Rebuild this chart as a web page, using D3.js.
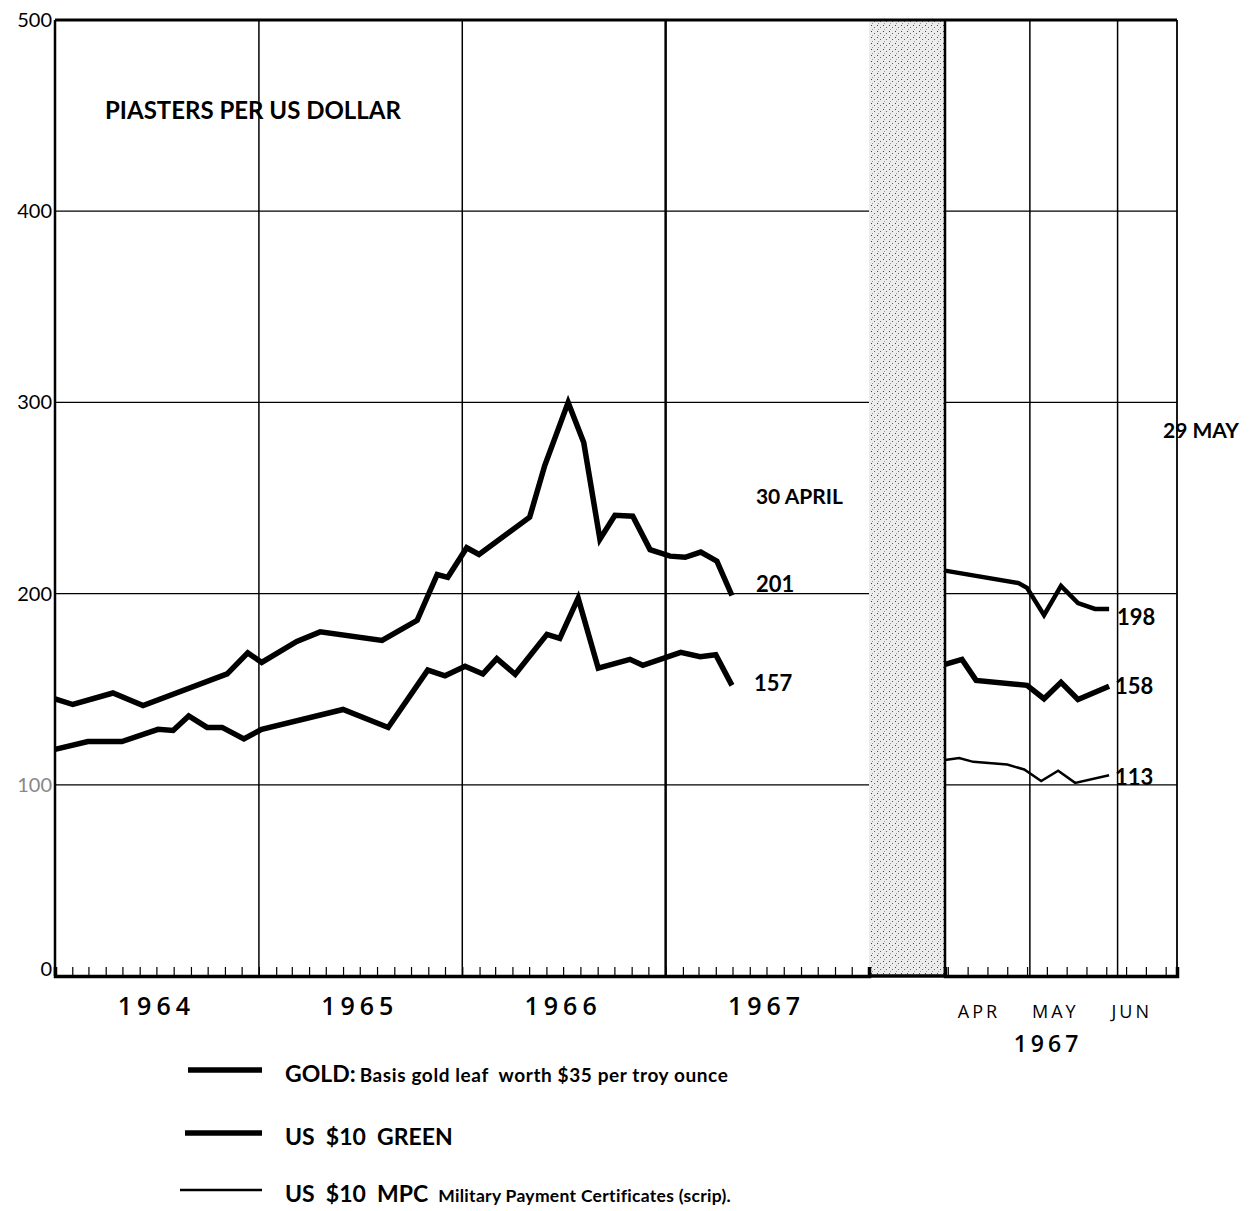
<!DOCTYPE html>
<html>
<head>
<meta charset="utf-8">
<script src="https://cdn.jsdelivr.net/npm/d3@7"></script>
<style>
  body { margin: 0; background: #fff; }
  text { font-family: Lato, "Open Sans", sans-serif; fill: #000; }
</style>
</head>
<body>
<div id="chart"></div>
<script>
// Left panel, 1964 - 30 April 1967
const goldLeftDates = ["1964-01-01","1964-02-02","1964-04-14","1964-06-07","1964-11-05","1964-12-12","1965-01-06","1965-03-10","1965-04-21","1965-08-10","1965-10-12","1965-11-17","1965-12-06","1966-01-09","1966-01-31","1966-05-02","1966-05-29","1966-07-10","1966-08-07","1966-09-05","1966-10-02","1966-11-03","1966-12-04","1967-01-09","1967-02-05","1967-03-05","1967-04-03","1967-04-30"];
const goldLeftValues = [145,142,148,141.5,158,169,164,175,180,175.5,186,210,208.5,224,220.5,240,267,300,279,228.5,241,240.5,223,219.6,219,221.7,217,199];

const greenLeftDates = ["1964-01-01","1964-02-29","1964-04-30","1964-07-04","1964-07-31","1964-08-28","1964-09-30","1964-10-27","1964-12-05","1965-01-06","1965-06-01","1965-08-21","1965-10-31","1965-12-01","1966-01-06","1966-02-07","1966-03-04","1966-04-06","1966-06-02","1966-06-25","1966-07-28","1966-09-02","1966-10-29","1966-11-21","1967-01-28","1967-03-04","1967-04-01","1967-04-30"];
const greenLeftValues = [118.5,122.6,122.6,129,128.4,136,130,130,124,129,139.4,130,160,157,162,158,166,157.8,178.7,176.6,197.6,161,165.6,162.5,169.3,167,168,152];

// Right panel, April - June 1967
const goldRightDates = ["1967-04-01","1967-04-27","1967-04-30","1967-05-06","1967-05-12","1967-05-18","1967-05-24","1967-05-29"];
const goldRightValues = [212,205.5,203,188.7,204,195,192,192];

const greenRightDates = ["1967-04-01","1967-04-07","1967-04-12","1967-04-30","1967-05-06","1967-05-12","1967-05-18","1967-05-29"];
const greenRightValues = [163,165.6,154.6,152,145,153.6,144.6,151.5];

const mpcRightDates = ["1967-04-01","1967-04-06","1967-04-11","1967-04-23","1967-04-29","1967-05-05","1967-05-11","1967-05-17","1967-05-29"];
const mpcRightValues = [113,114,112,110.6,108,102,107.4,101,105];

const yTicks = [0,100,200,300,400,500];
const yearLabels = ["1964","1965","1966","1967"];
const monthLabels = ["APR","MAY","JUN"];
const monthLabelDates = ["1967-04-13","1967-05-10","1967-06-06"];
const leftEndLabels = ["30 APRIL","201","157"];
const rightEndLabels = ["29 MAY","198","158","113"];

const parse = d3.timeParse("%Y-%m-%d");

const W = 1250, H = 1211;
const svg = d3.select("#chart").append("svg")
  .attr("width", W).attr("height", H);

// stipple pattern for the break between panels
const defs = svg.append("defs");
const pat = defs.append("pattern").attr("id", "stip")
  .attr("width", 6).attr("height", 6).attr("patternUnits", "userSpaceOnUse");
pat.append("rect").attr("width", 6).attr("height", 6).attr("fill", "#ececec");
pat.append("rect").attr("x", 1).attr("y", 1).attr("width", 1).attr("height", 1).attr("fill", "#444");
pat.append("rect").attr("x", 4).attr("y", 3).attr("width", 1).attr("height", 1).attr("fill", "#666");
pat.append("rect").attr("x", 2).attr("y", 5).attr("width", 1).attr("height", 1).attr("fill", "#999");

const plotTop = 20, plotBottom = 976;
const y = d3.scaleLinear().domain([0, 500]).range([plotBottom, plotTop]);

const xL = d3.scaleTime()
  .domain([parse("1964-01-01"), parse("1968-01-01")])
  .range([55, 869]);
const xR = d3.scaleTime()
  .domain([parse("1967-04-01"), parse("1967-06-22")])
  .range([945, 1177]);

// break area
svg.append("rect")
  .attr("x", xL.range()[1]).attr("y", plotTop)
  .attr("width", xR.range()[0] - xL.range()[1]).attr("height", plotBottom - plotTop)
  .attr("fill", "url(#stip)");

// horizontal grid lines
[xL, xR].forEach(sc => {
  svg.append("g").selectAll("line")
    .data(yTicks.filter(d => d > 0 && d < 500))
    .join("line")
    .attr("x1", sc.range()[0]).attr("x2", sc.range()[1])
    .attr("y1", d => y(d)).attr("y2", d => y(d))
    .attr("stroke", "#000").attr("stroke-width", 1.3);
});

// vertical grid: year boundaries, month boundaries
const yearBounds = d3.timeYear.range(parse("1965-01-01"), parse("1968-01-01"));
svg.append("g").selectAll("line")
  .data(yearBounds)
  .join("line")
  .attr("x1", d => xL(d)).attr("x2", d => xL(d))
  .attr("y1", plotTop).attr("y2", plotBottom)
  .attr("stroke", "#000")
  .attr("stroke-width", (d, i) => i === yearBounds.length - 1 ? 2.5 : 1.5);

const monthBounds = [parse("1967-05-01"), parse("1967-06-01")];
svg.append("g").selectAll("line")
  .data(monthBounds)
  .join("line")
  .attr("x1", d => xR(d)).attr("x2", d => xR(d))
  .attr("y1", plotTop).attr("y2", plotBottom)
  .attr("stroke", "#000").attr("stroke-width", 1.5);

// panel frames
svg.append("line")
  .attr("x1", xL.range()[0]).attr("x2", xL.range()[0])
  .attr("y1", plotTop).attr("y2", plotBottom)
  .attr("stroke", "#000").attr("stroke-width", 2.5);
svg.append("line")
  .attr("x1", xR.range()[0]).attr("x2", xR.range()[0])
  .attr("y1", plotTop).attr("y2", plotBottom)
  .attr("stroke", "#000").attr("stroke-width", 2.5);
svg.append("line")
  .attr("x1", xR.range()[1]).attr("x2", xR.range()[1])
  .attr("y1", plotTop).attr("y2", plotBottom)
  .attr("stroke", "#000").attr("stroke-width", 1.8);
svg.append("line")
  .attr("x1", xL.range()[0]).attr("x2", xR.range()[1])
  .attr("y1", plotTop).attr("y2", plotTop)
  .attr("stroke", "#000").attr("stroke-width", 3);

// bottom axes with month / week ticks
const axL = d3.axisBottom(xL).ticks(d3.timeMonth.every(1)).tickSize(-9).tickFormat("");
const gL = svg.append("g").attr("transform", `translate(0,${plotBottom})`).call(axL);
const axR = d3.axisBottom(xR).ticks(d3.timeWeek.every(1)).tickSize(-9).tickFormat("");
const gR = svg.append("g").attr("transform", `translate(0,${plotBottom})`).call(axR);
[gL, gR].forEach(g => {
  g.select(".domain").attr("stroke", "#000").attr("stroke-width", 3.5);
  g.selectAll(".tick line").attr("stroke", "#000").attr("stroke-width", 1.2);
});
svg.append("line")
  .attr("x1", xL.range()[1]).attr("x2", xR.range()[0])
  .attr("y1", plotBottom).attr("y2", plotBottom)
  .attr("stroke", "#000").attr("stroke-width", 3.5);

// y axis labels
svg.append("g").selectAll("text")
  .data(yTicks)
  .join("text")
  .attr("x", 52).attr("y", d => y(d) + (d === 0 ? 0 : 7))
  .attr("text-anchor", "end")
  .attr("font-size", 20)
  .style("fill", d => d === 100 ? "#888" : "#000")
  .text(d => d);

// series lines
const line = (sc) => d3.line().x(d => sc(d[0])).y(d => y(d[1])).curve(d3.curveLinear);
const series = [
  { dates: goldLeftDates, values: goldLeftValues, sc: xL, w: 5.5 },
  { dates: greenLeftDates, values: greenLeftValues, sc: xL, w: 5.5 },
  { dates: goldRightDates, values: goldRightValues, sc: xR, w: 4.5 },
  { dates: greenRightDates, values: greenRightValues, sc: xR, w: 5.5 },
  { dates: mpcRightDates, values: mpcRightValues, sc: xR, w: 2.5 }
];
series.forEach(s => {
  svg.append("path")
    .datum(s.dates.map((d, i) => [parse(d), s.values[i]]))
    .attr("d", line(s.sc))
    .attr("fill", "none")
    .attr("stroke", "#000")
    .attr("stroke-width", s.w)
    .attr("stroke-linejoin", "miter");
});

// unit label
svg.append("text")
  .attr("x", 105).attr("y", 119)
  .attr("font-size", 24).attr("font-weight", 700)
  .text("PIASTERS PER US DOLLAR");

// end labels, left panel
const lastL = parse(goldLeftDates[goldLeftDates.length - 1]);
svg.append("text").attr("x", xL(lastL) + 24).attr("y", 504)
  .attr("font-size", 21).attr("font-weight", 700).text(leftEndLabels[0]);
svg.append("text").attr("x", xL(lastL) + 24).attr("y", 592)
  .attr("font-size", 22).attr("font-weight", 700).text(leftEndLabels[1]);
svg.append("text").attr("x", xL(lastL) + 22).attr("y", 691)
  .attr("font-size", 22).attr("font-weight", 700).text(leftEndLabels[2]);

// end labels, right panel
const lastR = parse(goldRightDates[goldRightDates.length - 1]);
svg.append("text").attr("x", 1163).attr("y", 438)
  .attr("font-size", 21).attr("font-weight", 700).text(rightEndLabels[0]);
svg.append("text").attr("x", xR(lastR) + 8).attr("y", 625)
  .attr("font-size", 22).attr("font-weight", 700).text(rightEndLabels[1]);
svg.append("text").attr("x", xR(lastR) + 6).attr("y", 694)
  .attr("font-size", 22).attr("font-weight", 700).text(rightEndLabels[2]);
svg.append("text").attr("x", xR(lastR) + 6).attr("y", 785)
  .attr("font-size", 22).attr("font-weight", 700).text(rightEndLabels[3]);

// year labels
svg.append("g").selectAll("text")
  .data(yearLabels)
  .join("text")
  .attr("x", d => xL(parse(d + "-07-01")))
  .attr("y", 1015)
  .attr("text-anchor", "middle")
  .attr("font-size", 25)
  .attr("font-weight", 600)
  .attr("letter-spacing", 5)
  .style("font-family", "'Open Sans', sans-serif")
  .text(d => d);

// month labels
svg.append("g").selectAll("text")
  .data(monthLabels)
  .join("text")
  .attr("x", (d, i) => xR(parse(monthLabelDates[i])))
  .attr("y", 1018)
  .attr("text-anchor", "middle")
  .attr("font-size", 18)
  .attr("letter-spacing", 3)
  .style("font-family", "'Open Sans', sans-serif")
  .text(d => d);
svg.append("text")
  .attr("x", 1048).attr("y", 1052)
  .attr("text-anchor", "middle")
  .attr("font-size", 23)
  .attr("font-weight", 600)
  .attr("letter-spacing", 4)
  .style("font-family", "'Open Sans', sans-serif")
  .text("1967");

// legend
const legend = [
  { name: "GOLD:", note: "Basis gold leaf  worth $35 per troy ounce", w: 5.5, x1: 188, y: 1070, gap: 4, noteSize: 19, ls: 0.6 },
  { name: "US  $10  GREEN", note: "", w: 5.5, x1: 185, y: 1133, gap: 0, noteSize: 15, ls: 0 },
  { name: "US  $10  MPC", note: "Military Payment Certificates (scrip).", w: 2.5, x1: 180, y: 1190, gap: 10, noteSize: 17.5, ls: 0.3 }
];
const lg = svg.append("g");
legend.forEach(d => {
  lg.append("line")
    .attr("x1", d.x1).attr("x2", 262)
    .attr("y1", d.y).attr("y2", d.y)
    .attr("stroke", "#000").attr("stroke-width", d.w);
  const t = lg.append("text")
    .attr("x", 285).attr("y", d.y + 12)
    .attr("font-size", 23).attr("font-weight", 700)
    .style("white-space", "pre");
  t.append("tspan").text(d.name);
  if (d.note) {
    t.append("tspan").attr("dx", d.gap)
      .attr("font-size", d.noteSize)
      .attr("letter-spacing", d.ls)
      .text(d.note);
  }
});
</script>
</body>
</html>
